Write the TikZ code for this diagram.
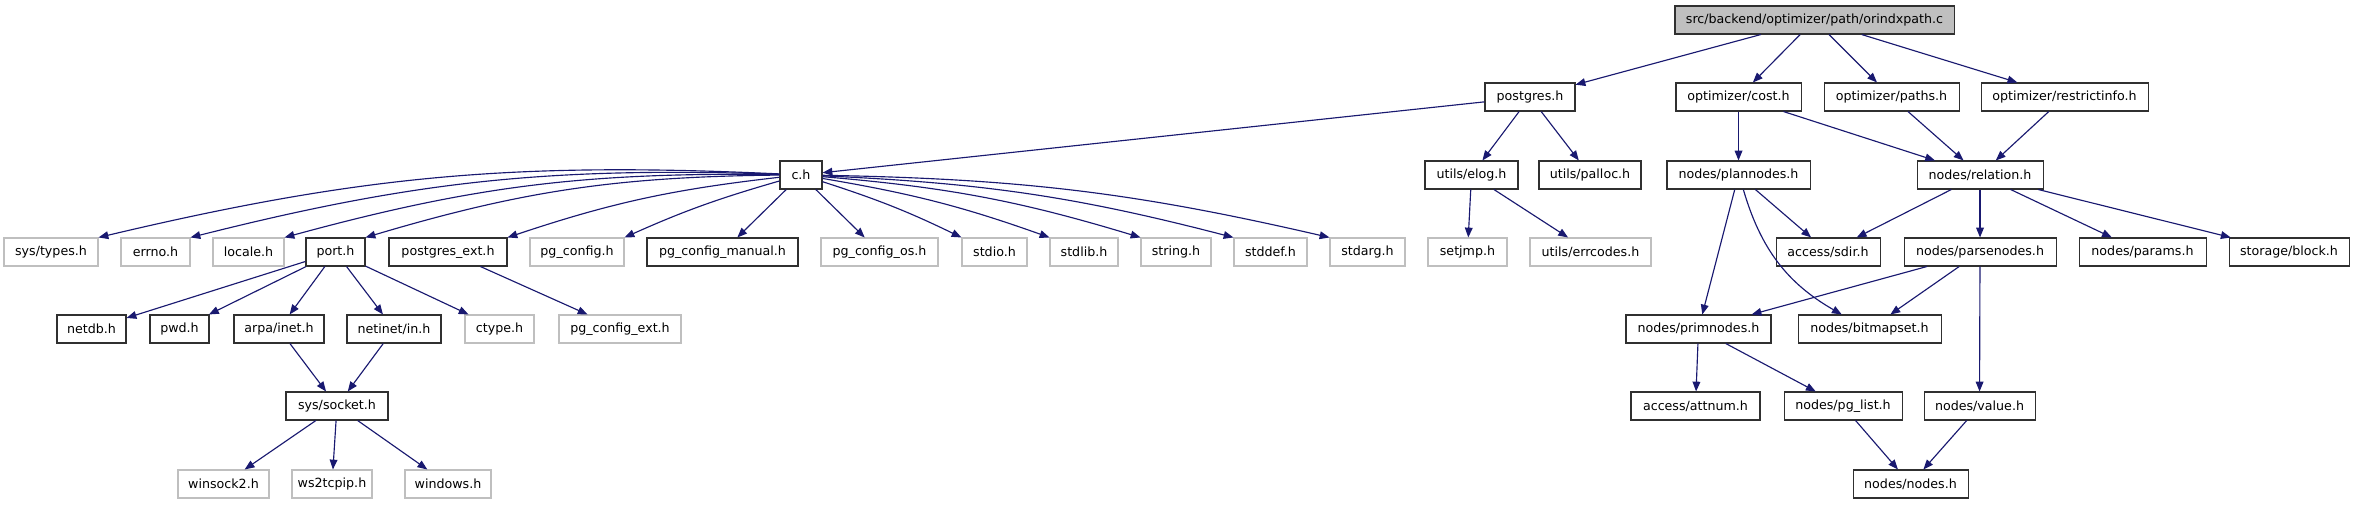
\documentclass[tikz,border=0pt]{standalone}
\usepackage{fontspec}
\setmainfont{DejaVu Sans}
\usepackage{tikz}
\usetikzlibrary{arrows.meta}
\definecolor{edgeblue}{RGB}{25,25,112}
\definecolor{sysgrey}{RGB}{191,191,191}
\definecolor{boxline}{RGB}{48,48,48}

\begin{document}
\begin{tikzpicture}[x=0.02cm, y=0.02cm,
    hdr/.style={draw=boxline, fill=white, rectangle, inner sep=0pt, line width=0.6pt,
                minimum height=0.56cm, font=\fontsize{7.2}{8}\selectfont},
    sys/.style={hdr, draw=sysgrey},
    src/.style={hdr, fill=sysgrey},
    wd/.style={minimum width=#1*0.02cm},
    inc/.style={-{Triangle[length=5.6pt,width=4.4pt]}, color=edgeblue, line width=0.65pt}]
    \useasboundingbox (0,0) rectangle (2355,-504);

    % Source file
    \node[src, wd=279] (root) at (1814.5,-20) {src/backend/optimizer/path/orindxpath.c};

    % First level
    \node[hdr, wd=90] (postgres) at (1530,-97) {postgres.h};
    \node[hdr, wd=125] (cost) at (1738.5,-97) {optimizer/cost.h};
    \node[hdr, wd=135] (paths) at (1891.5,-97) {optimizer/paths.h};
    \node[hdr, wd=167] (restrict) at (2064.5,-97) {optimizer/restrictinfo.h};

    % Second level
    \node[hdr, wd=42] (ch) at (801,-175) {c.h};
    \node[hdr, wd=93] (elog) at (1471.5,-175) {utils/elog.h};
    \node[hdr, wd=102] (palloc) at (1590,-175) {utils/palloc.h};
    \node[hdr, wd=143] (plannodes) at (1738.5,-175) {nodes/plannodes.h};
    \node[hdr, wd=126] (relation) at (1980,-175) {nodes/relation.h};

    % Third level
    \node[sys, wd=94] (systypes) at (51,-252) {sys/types.h};
    \node[sys, wd=69] (errno) at (155.5,-252) {errno.h};
    \node[sys, wd=71] (locale) at (248.5,-252) {locale.h};
    \node[hdr, wd=59] (port) at (335.5,-252) {port.h};
    \node[hdr, wd=118] (pgext) at (448,-252) {postgres\_ext.h};
    \node[sys, wd=94] (pgconfig) at (577,-252) {pg\_config.h};
    \node[hdr, wd=151] (pgmanual) at (722.5,-252) {pg\_config\_manual.h};
    \node[sys, wd=117] (pgos) at (879.5,-252) {pg\_config\_os.h};
    \node[sys, wd=65] (stdio) at (994.5,-252) {stdio.h};
    \node[sys, wd=68] (stdlib) at (1084,-252) {stdlib.h};
    \node[sys, wd=70] (string) at (1176,-252) {string.h};
    \node[sys, wd=73] (stddef) at (1270.5,-252) {stddef.h};
    \node[sys, wd=75] (stdarg) at (1367.5,-252) {stdarg.h};
    \node[sys, wd=79] (setjmp) at (1467.5,-252) {setjmp.h};
    \node[sys, wd=121] (errcodes) at (1590.5,-252) {utils/errcodes.h};
    \node[hdr, wd=104] (sdir) at (1828,-252) {access/sdir.h};
    \node[hdr, wd=152] (parsenodes) at (1980,-252) {nodes/parsenodes.h};
    \node[hdr, wd=127] (params) at (2142.5,-252) {nodes/params.h};
    \node[hdr, wd=120] (block) at (2289,-252) {storage/block.h};

    % Fourth level
    \node[hdr, wd=69] (netdb) at (91.5,-329) {netdb.h};
    \node[hdr, wd=59] (pwd) at (179.5,-329) {pwd.h};
    \node[hdr, wd=90] (arpainet) at (279,-329) {arpa/inet.h};
    \node[hdr, wd=94] (netinetin) at (394,-329) {netinet/in.h};
    \node[sys, wd=69] (ctype) at (499.5,-329) {ctype.h};
    \node[sys, wd=122] (pgcfgext) at (620,-329) {pg\_config\_ext.h};
    \node[hdr, wd=145] (primnodes) at (1698.5,-329) {nodes/primnodes.h};
    \node[hdr, wd=143] (bitmapset) at (1869.5,-329) {nodes/bitmapset.h};

    % Fifth level
    \node[hdr, wd=102] (socket) at (337,-406) {sys/socket.h};
    \node[hdr, wd=129] (attnum) at (1695.5,-406) {access/attnum.h};
    \node[hdr, wd=118] (pglist) at (1843,-406) {nodes/pg\_list.h};
    \node[hdr, wd=111] (value) at (1979.5,-406) {nodes/value.h};

    % Sixth level
    \node[sys, wd=91] (winsock) at (223.5,-484) {winsock2.h};
    \node[sys, wd=80] (wstcpip) at (332,-484) {ws2tcpip.h};
    \node[sys, wd=86] (windows) at (448,-484) {windows.h};
    \node[hdr, wd=115] (nodesh) at (1910.5,-484) {nodes/nodes.h};

    % Includes of the source file
    \draw[inc] (root) -- (postgres);
    \draw[inc] (root) -- (cost);
    \draw[inc] (root) -- (paths);
    \draw[inc] (root) -- (restrict);

    \draw[inc] (postgres) -- (ch);
    \draw[inc] (postgres) -- (elog);
    \draw[inc] (postgres) -- (palloc);
    \draw[inc] (cost) -- (plannodes);
    \draw[inc] (cost) -- (relation);
    \draw[inc] (paths) -- (relation);
    \draw[inc] (restrict) -- (relation);

    % c.h fan
    \draw[inc] (ch) to[bend right=8] (systypes.north east);
    \draw[inc] (ch) to[bend right=8] (errno.north east);
    \draw[inc] (ch) to[bend right=8] (locale.north east);
    \draw[inc] (ch) to[bend right=8] (port.north east);
    \draw[inc] (ch) to[bend right=6] (pgext.north east);
    \draw[inc] (ch) to[bend right=4] (pgconfig.north east);
    \draw[inc] (ch) -- (pgmanual);
    \draw[inc] (ch) -- (pgos);
    \draw[inc] (ch) to[bend left=4] (stdio.north west);
    \draw[inc] (ch) to[bend left=5] (stdlib.north west);
    \draw[inc] (ch) to[bend left=6] (string.north west);
    \draw[inc] (ch) to[bend left=6] (stddef.north west);
    \draw[inc] (ch) to[bend left=6] (stdarg.north west);

    \draw[inc] (elog) -- (setjmp);
    \draw[inc] (elog) -- (errcodes);

    \draw[inc] (port) -- (netdb);
    \draw[inc] (port) -- (pwd);
    \draw[inc] (port) -- (arpainet);
    \draw[inc] (port) -- (netinetin);
    \draw[inc] (port) -- (ctype);
    \draw[inc] (pgext) -- (pgcfgext);
    \draw[inc] (arpainet) -- (socket);
    \draw[inc] (netinetin) -- (socket);
    \draw[inc] (socket) -- (winsock);
    \draw[inc] (socket) -- (wstcpip);
    \draw[inc] (socket) -- (windows);

    % nodes headers
    \draw[inc] (plannodes) -- (sdir);
    \draw[inc] (plannodes) -- (primnodes);
    \draw[inc] (plannodes) to[bend right=22] (bitmapset);
    \draw[inc] (relation) -- (sdir);
    \draw[inc] (relation) -- (parsenodes);
    \draw[inc] (relation) -- (params);
    \draw[inc] (relation) -- (block);
    \draw[inc] (parsenodes) -- (primnodes);
    \draw[inc] (parsenodes) -- (bitmapset);
    \draw[inc] (parsenodes) -- (value);
    \draw[inc] (primnodes) -- (attnum);
    \draw[inc] (primnodes) -- (pglist);
    \draw[inc] (pglist) -- (nodesh);
    \draw[inc] (value) -- (nodesh);
\end{tikzpicture}
\end{document}
